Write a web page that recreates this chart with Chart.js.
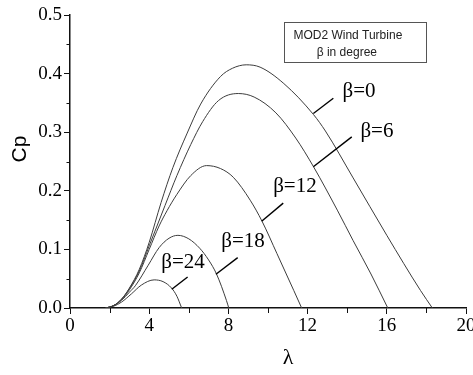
<!DOCTYPE html>
<html>
<head>
<meta charset="utf-8">
<script src="https://cdn.jsdelivr.net/npm/chart.js@4.4.1/dist/chart.umd.min.js"></script>
<style>
html, body { margin: 0; padding: 0; background: #fff; }
#wrap { width: 473px; height: 375px; position: relative; }
</style>
</head>
<body>
<div id="wrap"><canvas id="chartCp"></canvas></div>
<script>
// pitch angles and their Cp(lambda) curves
const betaNames = ['β=0', 'β=6', 'β=12', 'β=18', 'β=24'];

const lambda0 = [1.8, 2.2, 2.6, 3.0, 3.5, 4.0, 4.6, 5.2, 5.9, 6.6, 7.6, 8.2, 8.9, 9.6, 10.8, 12.3, 12.9, 14.3, 16.0, 17.7, 18.3];
const cp0 = [0, 0.004, 0.015, 0.034, 0.066, 0.112, 0.180, 0.240, 0.297, 0.348, 0.395, 0.409, 0.415, 0.411, 0.383, 0.330, 0.302, 0.222, 0.124, 0.030, 0];

const lambda6 = [1.8, 2.2, 2.6, 3.0, 3.5, 4.0, 4.8, 5.4, 6.1, 6.7, 7.5, 8.5, 9.3, 10.4, 11.4, 12.3, 13.5, 14.3, 15.2, 16.05];
const cp6 = [0, 0.004, 0.015, 0.033, 0.063, 0.106, 0.175, 0.226, 0.279, 0.318, 0.354, 0.366, 0.360, 0.333, 0.290, 0.241, 0.167, 0.115, 0.058, 0];

const lambda12 = [1.8, 2.2, 2.6, 3.0, 3.5, 4.0, 4.5, 4.9, 5.4, 6.1, 6.9, 7.6, 8.25, 9.1, 9.7, 10.45, 11.3, 11.7];
const cp12 = [0, 0.004, 0.014, 0.031, 0.060, 0.100, 0.140, 0.166, 0.194, 0.226, 0.243, 0.238, 0.223, 0.184, 0.148, 0.093, 0.030, 0];

const lambda18 = [1.8, 2.2, 2.6, 3.0, 3.3, 3.95, 4.5, 5.0, 5.45, 6.0, 6.55, 7.0, 7.4, 7.9, 8.02];
const cp18 = [0, 0.004, 0.013, 0.027, 0.038, 0.073, 0.103, 0.119, 0.124, 0.118, 0.102, 0.082, 0.058, 0.013, 0];

const lambda24 = [1.8, 2.2, 2.6, 3.1, 3.6, 4.25, 4.7, 5.13, 5.4, 5.64];
const cp24 = [0, 0.003, 0.010, 0.024, 0.039, 0.048, 0.045, 0.034, 0.020, 0];

const xTickValues = [0, 4, 8, 12, 16, 20];
const xMinorValues = [2, 6, 10, 14, 18];
const yTickValues = [0, 0.1, 0.2, 0.3, 0.4, 0.5];
const yMinorValues = [0.05, 0.15, 0.25, 0.35, 0.45];

const boxLines = ['MOD2 Wind Turbine', 'β in degree'];

// callouts: curve point -> end of the leader, label centre (all in data units)
const callouts = [
    { from: [12.29, 0.332], to: [13.30, 0.358], at: [14.6, 0.370] },
    { from: [12.29, 0.241], to: [14.23, 0.292], at: [15.5, 0.302] },
    { from: [9.68, 0.148], to: [10.77, 0.179], at: [11.36, 0.208] },
    { from: [7.37, 0.0575], to: [8.47, 0.086], at: [8.74, 0.114] },
    { from: [5.14, 0.032], to: [5.94, 0.053], at: [5.71, 0.078] },
];

const series = [
    [lambda0, cp0],
    [lambda6, cp6],
    [lambda12, cp12],
    [lambda18, cp18],
    [lambda24, cp24],
];

const serif = '"Liberation Serif", "Times New Roman", serif';
const sans = '"Liberation Sans", Arial, sans-serif';

const extras = {
    id: 'extras',
    afterDraw(chart) {
        const { ctx, chartArea: area } = chart;
        const x = chart.scales.x;
        const y = chart.scales.y;
        ctx.save();

        // minor ticks
        ctx.strokeStyle = '#111';
        ctx.lineWidth = 1;
        ctx.beginPath();
        xMinorValues.forEach((v) => {
            const px = Math.round(x.getPixelForValue(v)) + 0.5;
            ctx.moveTo(px, area.bottom);
            ctx.lineTo(px, area.bottom + 5);
        });
        yMinorValues.forEach((v) => {
            const py = Math.round(y.getPixelForValue(v)) + 0.5;
            ctx.moveTo(area.left, py);
            ctx.lineTo(area.left - 3.5, py);
        });
        ctx.stroke();

        // leader lines and beta labels
        ctx.strokeStyle = '#000';
        ctx.lineWidth = 1.4;
        ctx.fillStyle = '#000';
        ctx.font = '21px ' + serif;
        ctx.textAlign = 'center';
        ctx.textBaseline = 'middle';
        callouts.forEach((c, i) => {
            ctx.beginPath();
            ctx.moveTo(x.getPixelForValue(c.from[0]), y.getPixelForValue(c.from[1]));
            ctx.lineTo(x.getPixelForValue(c.to[0]), y.getPixelForValue(c.to[1]));
            ctx.stroke();
            ctx.fillText(betaNames[i], x.getPixelForValue(c.at[0]), y.getPixelForValue(c.at[1]));
        });

        // info box
        const bx0 = x.getPixelForValue(10.8);
        const bx1 = x.getPixelForValue(17.96);
        const by0 = y.getPixelForValue(0.4875);
        const by1 = y.getPixelForValue(0.42);
        ctx.strokeStyle = '#555';
        ctx.lineWidth = 1;
        ctx.strokeRect(Math.round(bx0) + 0.5, Math.round(by0) + 0.5, Math.round(bx1 - bx0), Math.round(by1 - by0));
        ctx.fillStyle = '#222';
        ctx.font = '12px ' + sans;
        ctx.fillText(boxLines[0], bx0 + 64, by0 + 13);
        ctx.fillText(boxLines[1], bx0 + 63, by0 + 30);

        // axis titles
        ctx.fillStyle = '#000';
        ctx.font = '22px ' + serif;
        ctx.fillText('λ', area.left + 218, area.bottom + 50);
        ctx.save();
        ctx.translate(20, area.top + 134);
        ctx.rotate(-Math.PI / 2);
        ctx.font = '21px ' + sans;
        ctx.fillText('Cp', 0, 0);
        ctx.restore();

        ctx.restore();
    },
};

new Chart(document.getElementById('chartCp'), {
    type: 'line',
    data: {
        datasets: series.map(([lx, ly], i) => ({
            label: betaNames[i],
            data: lx.map((l, j) => ({ x: l, y: ly[j] })),
            borderColor: '#3c3c3c',
            borderWidth: 1,
            pointRadius: 0,
            fill: false,
            cubicInterpolationMode: 'monotone',
        })),
    },
    options: {
        responsive: true,
        maintainAspectRatio: false,
        animation: false,
        layout: { padding: { top: 15, right: 7, left: 0, bottom: 0 } },
        plugins: { legend: { display: false }, tooltip: { enabled: false } },
        scales: {
            x: {
                type: 'linear',
                min: 0,
                max: 20,
                afterBuildTicks: (s) => { s.ticks = xTickValues.map((v) => ({ value: v })); },
                afterFit: (s) => { s.height = 67; s.paddingLeft = 0; s.paddingRight = 0; },
                grid: { drawOnChartArea: false, color: '#111', tickLength: 6 },
                border: { color: '#111', width: 1.5 },
                ticks: { color: '#000', padding: 1, maxRotation: 0, font: { family: serif, size: 19 } },
            },
            y: {
                min: 0,
                max: 0.5,
                afterBuildTicks: (s) => { s.ticks = yTickValues.map((v) => ({ value: v })); },
                afterFit: (s) => { s.width = 70; s.paddingTop = 0; s.paddingBottom = 0; },
                grid: { drawOnChartArea: false, color: '#111', tickLength: 6 },
                border: { color: '#111', width: 1.5 },
                ticks: {
                    color: '#000',
                    padding: 2,
                    font: { family: serif, size: 19 },
                    callback: (v) => Number(v).toFixed(1),
                },
            },
        },
    },
    plugins: [extras],
});
</script>
</body>
</html>
